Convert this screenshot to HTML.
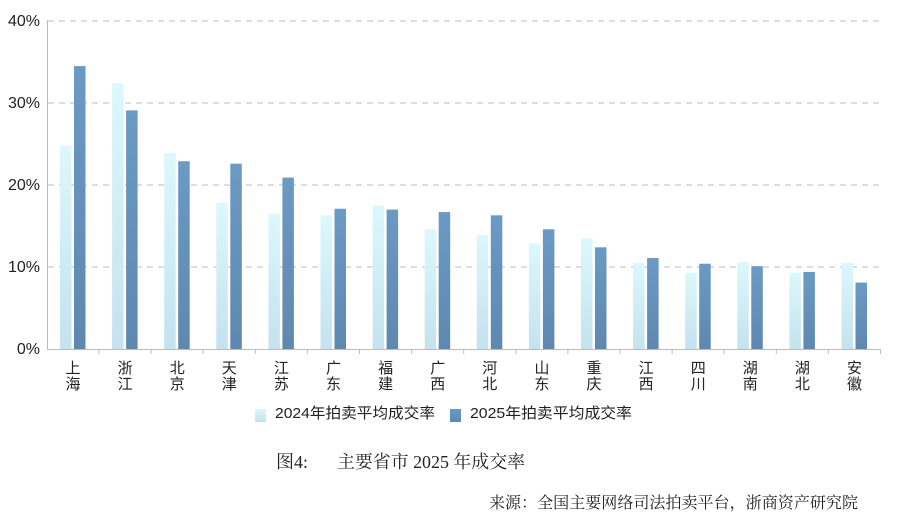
<!DOCTYPE html>
<html><head><meta charset="utf-8"><style>
body{margin:0;background:#fff;}
svg{display:block;font-family:"Liberation Sans","Noto Sans CJK SC",sans-serif;}
.s{font-family:"Liberation Serif","Noto Serif CJK SC",serif;}
</style></head><body>
<svg width="900" height="520" viewBox="0 0 900 520" xmlns="http://www.w3.org/2000/svg">
<defs>
<linearGradient id="g1" x1="0" y1="0" x2="0" y2="1"><stop offset="0" stop-color="#dcf8fc"/><stop offset="1" stop-color="#c4e2ef"/></linearGradient>
<linearGradient id="g2" x1="0" y1="0" x2="0" y2="1"><stop offset="0" stop-color="#6b9ac4"/><stop offset="1" stop-color="#5e88b0"/></linearGradient>
</defs>
<g stroke="#d4d4d4" stroke-width="1.5" stroke-dasharray="6,5">
<line x1="48" y1="21" x2="880" y2="21"/><line x1="48" y1="103" x2="880" y2="103"/><line x1="48" y1="185" x2="880" y2="185"/><line x1="48" y1="267" x2="880" y2="267"/>
</g>
<line x1="47.5" y1="20" x2="47.5" y2="350" stroke="#bbb"/>
<line x1="47" y1="349.5" x2="880" y2="349.5" stroke="#bbb"/>
<g font-size="16" fill="#222" text-anchor="end">
<text x="40" y="26">40%</text><text x="40" y="108">30%</text><text x="40" y="190">20%</text><text x="40" y="272">10%</text><text x="40" y="354">0%</text>
</g>
<g id="bars"></g>
<g id="labs" font-size="15" fill="#222" text-anchor="middle"></g>
<rect x="255" y="409" width="11" height="13" fill="url(#g1)"/>
<text x="275" y="418" font-size="15" fill="#222" textLength="160" lengthAdjust="spacingAndGlyphs">2024年拍卖平均成交率</text>
<rect x="450" y="409" width="11" height="13" fill="url(#g2)"/>
<text x="470" y="418" font-size="15" fill="#222" textLength="162" lengthAdjust="spacingAndGlyphs">2025年拍卖平均成交率</text>
<text class="s" x="276" y="468" font-size="18" fill="#222">图4:</text>
<text class="s" x="337" y="468" font-size="18" fill="#222" textLength="188" lengthAdjust="spacingAndGlyphs">主要省市 2025 年成交率</text>
<text class="s" x="489" y="508" font-size="16" fill="#222" textLength="369" lengthAdjust="spacingAndGlyphs">来源：全国主要网络司法拍卖平台，浙商资产研究院</text>
</svg>
<script>
var names=["上海","浙江","北京","天津","江苏","广东","福建","广西","河北","山东","重庆","江西","四川","湖南","湖北","安徽"];
var a=[24.8,32.4,23.9,17.8,16.5,16.3,17.5,14.6,13.9,12.9,13.5,10.5,9.3,10.6,9.3,10.5];
var b=[34.5,29.1,22.9,22.6,20.9,17.1,17.0,16.7,16.3,14.6,12.4,11.1,10.4,10.1,9.4,8.1];
var ns="http://www.w3.org/2000/svg",g=document.getElementById("bars"),l=document.getElementById("labs");
function r(x,y,w,h,f){var e=document.createElementNS(ns,"rect");e.setAttribute("x",x);e.setAttribute("y",y);e.setAttribute("width",w);e.setAttribute("height",h);e.setAttribute("fill",f);g.appendChild(e);}
function t(x,y,s){var e=document.createElementNS(ns,"text");e.setAttribute("x",x);e.setAttribute("y",y);e.textContent=s;l.appendChild(e);}
var step=52.1;
for(var i=0;i<16;i++){var c=73+i*step;
var ha=a[i]*8.2,hb=b[i]*8.2;
r(c-13,349-ha,11.5,ha,"url(#g1)");r(c+1,349-hb,11.5,hb,"url(#g2)");
var tk=document.createElementNS(ns,"line");tk.setAttribute("x1",c+26);tk.setAttribute("x2",c+26);tk.setAttribute("y1",349);tk.setAttribute("y2",354);tk.setAttribute("stroke","#bbb");g.appendChild(tk);
t(c,373,names[i][0]);t(c,389,names[i][1]);}
</script>
</body></html>
